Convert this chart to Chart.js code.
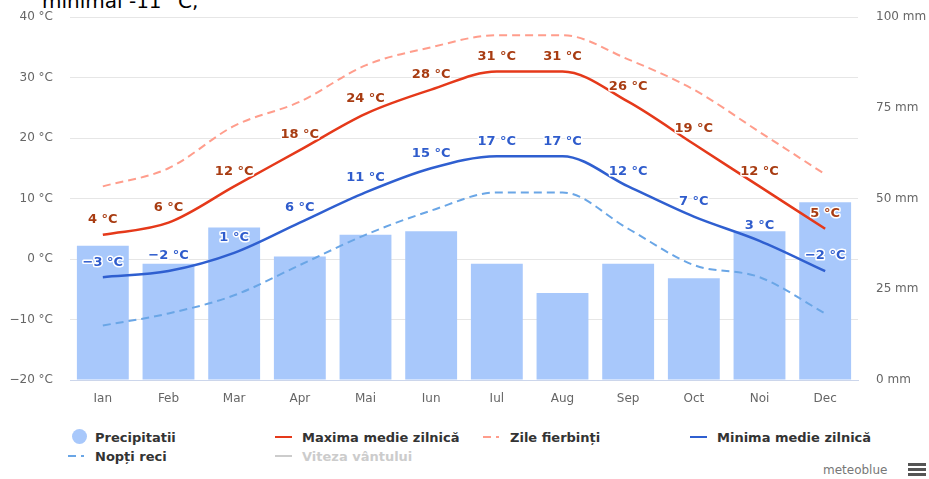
<!DOCTYPE html>
<html>
<head>
<meta charset="utf-8">
<script src="https://cdn.jsdelivr.net/npm/chart.js@4"></script>
<style>
  body { margin: 0; background: #fff; font-family: "DejaVu Sans", sans-serif; overflow: hidden; }
  #wrap { position: relative; width: 929px; height: 479px; overflow: hidden; }
  #chart { position: absolute; left: 0; top: 0; }
  .title { position: absolute; left: 42px; top: -11px; font-size: 20px; color: #000; white-space: nowrap; }
  .leg { position: absolute; font-size: 13px; font-weight: bold; color: #333; white-space: nowrap; line-height: 15px; }
  .leg.off { color: #ccc; }
  .ico { position: absolute; }
  .brand { position: absolute; left: 823px; top: 463px; font-size: 12px; color: #777; }
  .burger { position: absolute; left: 908px; width: 18px; height: 3px; background: #555; }
</style>
</head>
<body>
<div id="wrap">
  <div class="title">minimal -11 °C,</div>
  <canvas id="chart" width="929" height="420"></canvas>
  <div id="legend"></div>
  <div class="brand">meteoblue</div>
  <div class="burger" style="top:463px"></div>
  <div class="burger" style="top:468px"></div>
  <div class="burger" style="top:473px"></div>
</div>
<script>
  // DATE
  const luni = ["Ian", "Feb", "Mar", "Apr", "Mai", "Iun", "Iul", "Aug", "Sep", "Oct", "Noi", "Dec"];
  const precipitatii = [37, 32, 42, 34, 40, 41, 32, 24, 32, 28, 41, 49];
  const maxima = [4, 6, 12, 18, 24, 28, 31, 31, 26, 19, 12, 5];
  const zileFierbinti = [12, 15, 22, 26, 32, 35, 37, 37, 33, 28, 21, 14];
  const minima = [-3, -2, 1, 6, 11, 15, 17, 17, 12, 7, 3, -2];
  const noptiReci = [-11, -9, -6, -1, 4, 8, 11, 11, 5, -1, -3, -9];
  const tempTicks = [-20, -10, 0, 10, 20, 30, 40];
  const mmTicks = [0, 25, 50, 75, 100];

  function grade(v) {
    return (v < 0 ? "\u2212" + (-v) : v) + " °C";
  }

  // ETICHETE PE PUNCTE
  const etichete = {
    id: "etichete",
    afterDatasetsDraw(chart) {
      const ctx = chart.ctx;
      ctx.save();
      ctx.font = "bold 13px 'DejaVu Sans'";
      ctx.textAlign = "center";
      ctx.textBaseline = "middle";
      ctx.lineJoin = "round";
      chart.data.datasets.forEach((ds, i) => {
        if (!ds.labelColor) return;
        chart.getDatasetMeta(i).data.forEach((pt, j) => {
          const txt = grade(ds.data[j]);
          ctx.lineWidth = 3;
          ctx.strokeStyle = "#fff";
          ctx.strokeText(txt, pt.x, pt.y - 15);
          ctx.fillStyle = ds.labelColor;
          ctx.fillText(txt, pt.x, pt.y - 15);
        });
      });
      ctx.restore();
    }
  };

  Chart.defaults.font.family = "'DejaVu Sans'";
  Chart.defaults.font.size = 12;
  Chart.defaults.color = "#666";

  new Chart(document.getElementById("chart"), {
    type: "bar",
    data: {
      labels: luni,
      datasets: [
        {
          type: "line", label: "Maxima medie zilnică", data: maxima, yAxisID: "t",
          borderColor: "#e5391a", borderWidth: 2.5, pointRadius: 0,
          cubicInterpolationMode: "monotone", labelColor: "#a83c12", order: 1
        },
        {
          type: "line", label: "Minima medie zilnică", data: minima, yAxisID: "t",
          borderColor: "#2f5fd0", borderWidth: 2.5, pointRadius: 0,
          cubicInterpolationMode: "monotone", labelColor: "#2f5ccc", order: 2
        },
        {
          type: "line", label: "Zile fierbinți", data: zileFierbinti, yAxisID: "t",
          borderColor: "#ff9d8c", borderWidth: 2, borderDash: [8, 5], pointRadius: 0,
          cubicInterpolationMode: "monotone", order: 3
        },
        {
          type: "line", label: "Nopți reci", data: noptiReci, yAxisID: "t",
          borderColor: "#6aa6e6", borderWidth: 2, borderDash: [8, 5], pointRadius: 0,
          cubicInterpolationMode: "monotone", order: 4
        },
        {
          type: "bar", label: "Precipitatii", data: precipitatii, yAxisID: "mm",
          backgroundColor: "#a8c8fb", borderWidth: 0,
          categoryPercentage: 1, barPercentage: 0.79, order: 10
        }
      ]
    },
    options: {
      responsive: false,
      animation: false,
      layout: { padding: { top: 17, left: 0, right: 0, bottom: 0 } },
      plugins: {
        legend: { display: false },
        tooltip: { enabled: false }
      },
      scales: {
        x: {
          grid: { display: false },
          border: { display: true, color: "#ccd6eb", width: 1 },
          ticks: { padding: 4, color: "#666" },
          afterFit(s) { s.height = 40; }
        },
        t: {
          position: "left", min: -20, max: 40,
          afterBuildTicks(s) { s.ticks = tempTicks.map(v => ({ value: v })); },
          ticks: { padding: 17, callback: v => grade(v) },
          grid: { color: "#e6e6e6", drawTicks: false },
          border: { display: false },
          afterFit(s) { s.width = 70; s.paddingTop = 0; s.paddingBottom = 0; }
        },
        mm: {
          position: "right", min: 0, max: 100,
          afterBuildTicks(s) { s.ticks = mmTicks.map(v => ({ value: v })); },
          ticks: { padding: 18, align: "center", callback: v => v + " mm" },
          grid: { drawOnChartArea: false, drawTicks: false },
          border: { display: false },
          afterFit(s) { s.width = 71; s.paddingTop = 0; s.paddingBottom = 0; }
        }
      }
    },
    plugins: [etichete]
  });

  // LEGENDA
  const legenda = [
    { text: "Precipitatii", x: 95, y: 430, icon: "circle", color: "#a8c8fb" },
    { text: "Maxima medie zilnică", x: 302, y: 430, icon: "line", color: "#e5391a" },
    { text: "Zile fierbinți", x: 510, y: 430, icon: "dash", color: "#ff9d8c" },
    { text: "Minima medie zilnică", x: 717, y: 430, icon: "line", color: "#2f5fd0" },
    { text: "Nopți reci", x: 95, y: 449, icon: "dash", color: "#6aa6e6" },
    { text: "Viteza vântului", x: 302, y: 449, icon: "line", color: "#ccc", off: true }
  ];
  const legEl = document.getElementById("legend");
  legenda.forEach(it => {
    const t = document.createElement("div");
    t.className = "leg" + (it.off ? " off" : "");
    t.style.left = it.x + "px";
    t.style.top = it.y + "px";
    t.textContent = it.text;
    legEl.appendChild(t);
    const cy = it.y + 7;
    if (it.icon === "circle") {
      const c = document.createElement("div");
      c.className = "ico";
      c.style.cssText += `left:${it.x - 23}px;top:${cy - 8}px;width:15px;height:15px;border-radius:50%;background:${it.color}`;
      legEl.appendChild(c);
    } else if (it.icon === "line") {
      const l = document.createElement("div");
      l.className = "ico";
      l.style.cssText += `left:${it.x - 27}px;top:${cy - 1}px;width:17px;height:2px;background:${it.color}`;
      legEl.appendChild(l);
    } else {
      [[-27, 8], [-14, 3]].forEach(([dx, w]) => {
        const d = document.createElement("div");
        d.className = "ico";
        d.style.cssText += `left:${it.x + dx}px;top:${cy - 1}px;width:${w}px;height:2px;background:${it.color}`;
        legEl.appendChild(d);
      });
    }
  });
</script>
</body>
</html>
